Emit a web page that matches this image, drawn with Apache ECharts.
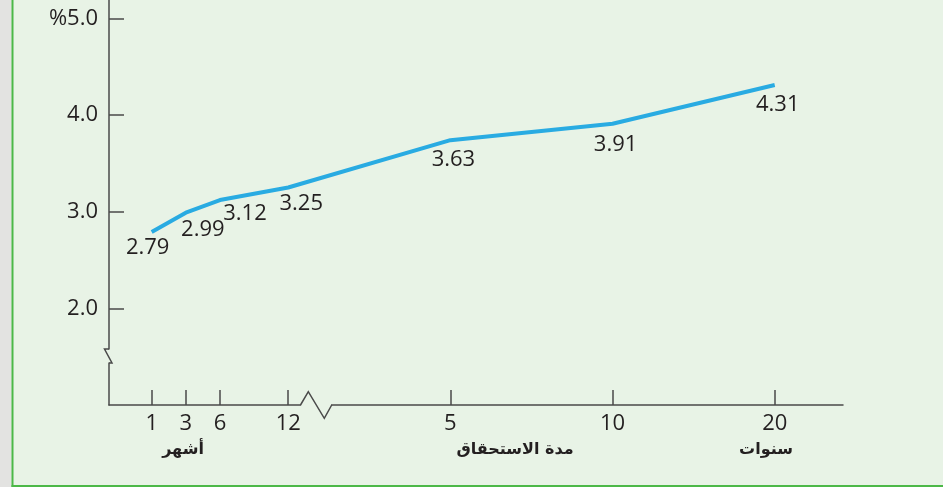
<!DOCTYPE html>
<html><head><meta charset="utf-8">
<script src="https://cdn.jsdelivr.net/npm/echarts@6/dist/echarts.min.js"></script>
<style>html,body{margin:0;padding:0;background:#e8f3e6;overflow:hidden}#c{width:943px;height:487px}</style>
</head><body><div id="c"></div><script>
// ---- data ----
const maturities = ['1', '3', '6', '12', '5', '10', '20'];
const yields = [2.79, 2.99, 3.12, 3.25, 3.74, 3.91, 4.31];          // as plotted
const yieldLabels = ['2.79', '2.99', '3.12', '3.25', '3.63', '3.91', '4.31']; // as printed
const yTickValues = [2, 3, 4, 5];
const groupLabels = ['أشهر', 'مدة الاستحقاق', 'سنوات'];

// ---- layout (axis slot spacing, label nudges) ----
const slotGaps = [5, 4, 4, 8, 19, 19, 19];
const totalSlots = 87;
const labelNudges = [[-4, 5], [17, 6], [25, 3], [13, 5], [3, 9], [3, 10], [3, 9]];

const categories = [];
const seriesData = [];
let pos = 0;
maturities.forEach((m, i) => {
  pos += slotGaps[i];
  while (categories.length < pos) { categories.push(''); seriesData.push('-'); }
  categories.push(m);
  seriesData.push({
    value: yields[i],
    label: { formatter: yieldLabels[i], offset: labelNudges[i] }
  });
});
while (categories.length < totalSlots) { categories.push(''); seriesData.push('-'); }

const INK = '#231f20';
const AX = '#4a4a4a';
const BG = '#e8f3e6';
const FONT = 'Open Sans';
const FS = 22;

const chart = echarts.init(document.getElementById('c'));
chart.setOption({
  animation: false,
  backgroundColor: BG,
  grid: { left: 109, right: 100, top: 0, bottom: 82, containLabel: false },
  xAxis: {
    type: 'category',
    data: categories,
    boundaryGap: false,
    axisLine: { show: true, lineStyle: { color: AX, width: 1.5 } },
    axisTick: {
      show: true, inside: true, length: 15,
      interval: (i, v) => v !== '',
      lineStyle: { color: AX, width: 1.5 }
    },
    axisLabel: {
      interval: (i, v) => v !== '',
      color: INK, fontFamily: FONT, fontSize: FS, margin: 8
    },
    splitLine: { show: false }
  },
  yAxis: {
    type: 'value',
    min: 1, max: 5.19, interval: 1,
    axisLine: { show: true, lineStyle: { color: AX, width: 1.5 } },
    axisTick: {
      show: true, inside: true, length: 15,
      customValues: yTickValues,
      lineStyle: { color: AX, width: 1.5 }
    },
    axisLabel: {
      customValues: yTickValues,
      formatter: v => (v === 5 ? '%' : '') + v.toFixed(1),
      color: INK, fontFamily: FONT, fontSize: FS, margin: 11
    },
    splitLine: { show: false }
  },
  series: [{
    type: 'line',
    data: seriesData,
    connectNulls: true,
    symbol: 'circle', symbolSize: 0, showSymbol: true,
    lineStyle: { color: '#29abe2', width: 4 },
    itemStyle: { color: '#29abe2' },
    label: {
      show: true, position: 'bottom', distance: 0,
      color: INK, fontFamily: FONT, fontSize: FS
    },
    silent: true
  }],
  graphic: [
    // frame: gray margin, green borders
    { type: 'rect', shape: { x: 0, y: 0, width: 11.5, height: 487 }, style: { fill: '#e3e3e1' }, silent: true },
    { type: 'rect', shape: { x: 11.5, y: 0, width: 2, height: 487 }, style: { fill: '#4cb848' }, silent: true },
    { type: 'rect', shape: { x: 11.5, y: 485, width: 932, height: 2 }, style: { fill: '#4cb848' }, silent: true },
    // y-axis break
    { type: 'rect', shape: { x: 106, y: 349.5, width: 6, height: 13 }, style: { fill: BG }, z: 10, silent: true },
    { type: 'polyline', shape: { points: [[109, 349], [104.5, 349], [112, 363], [109, 363]] },
      style: { stroke: AX, lineWidth: 1.5, fill: null }, z: 11, silent: true },
    // x-axis break
    { type: 'rect', shape: { x: 301, y: 402, width: 30, height: 6 }, style: { fill: BG }, z: 10, silent: true },
    { type: 'polyline', shape: { points: [[300.5, 405], [308.3, 391.7], [324.3, 418.3], [331.7, 405]] },
      style: { stroke: AX, lineWidth: 1.5, fill: null }, z: 11, silent: true },
    // group captions
    { type: 'text', x: 183, y: 450, style: { text: groupLabels[0], fill: INK, font: 'bold 16px "DejaVu Sans"', textAlign: 'center', textVerticalAlign: 'middle' }, silent: true },
    { type: 'text', x: 515, y: 450, style: { text: groupLabels[1], fill: INK, font: 'bold 16px "DejaVu Sans"', textAlign: 'center', textVerticalAlign: 'middle' }, silent: true },
    { type: 'text', x: 766, y: 450, style: { text: groupLabels[2], fill: INK, font: 'bold 16px "DejaVu Sans"', textAlign: 'center', textVerticalAlign: 'middle' }, silent: true }
  ]
});
</script></body></html>
